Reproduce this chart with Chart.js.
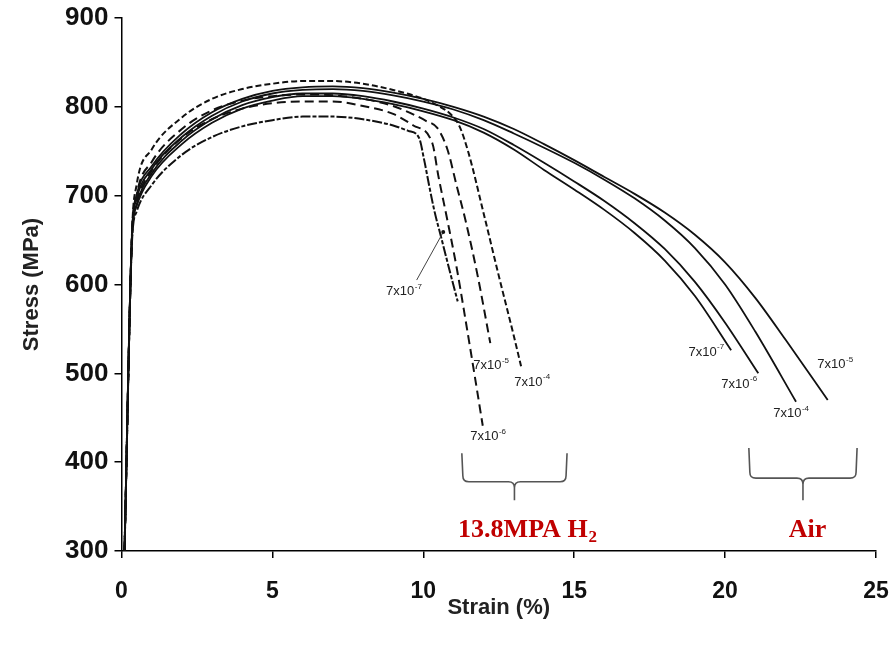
<!DOCTYPE html>
<html>
<head>
<meta charset="utf-8">
<script src="https://cdn.jsdelivr.net/npm/chart.js@4.4.1/dist/chart.umd.min.js"></script>
<style>
  html, body { margin:0; padding:0; background:#fff; }
  #wrap { width:895px; height:650px; }
</style>
</head>
<body>
<div id="wrap"><canvas id="chart" width="895" height="650"></canvas></div>
<script>
// axis ticks
const xTicks = [0, 5, 10, 15, 20, 25];
const yTicks = [300, 400, 500, 600, 700, 800, 900];

// tests in air (solid lines), strain % / stress MPa
const air7Strain = [0.1, 0.35, 0.5, 1, 2, 3, 4, 5, 6, 7, 8, 9, 10, 11, 12, 13, 14, 15, 16, 17, 18, 19, 20.2];
const air7Stress = [300, 655, 688, 722, 758, 782, 798, 807, 812, 812, 809, 803, 795, 785, 771, 752, 729, 707, 684, 658, 627, 587, 526];
const air6Strain = [0.1, 0.35, 0.5, 1, 2, 3, 4, 5, 6, 7, 8, 9, 10, 11, 12, 13, 14, 15, 16, 17, 18, 19, 20, 21.1];
const air6Stress = [300, 655, 690, 725, 762, 786, 802, 811, 815, 815, 812, 806, 798, 788, 775, 757, 737, 716, 694, 669, 640, 603, 557, 500];
const air4Strain = [0.1, 0.35, 0.5, 1, 2, 3, 4, 5, 6, 7, 8, 9, 10, 11, 12, 13, 14, 15, 16, 17, 18, 19, 20, 21, 22.35];
const air4Stress = [300, 658, 696, 730, 766, 790, 806, 815, 819, 820, 818, 813, 806, 797, 785, 770, 754, 737, 718, 697, 672, 641, 600, 547, 468];
const air5Strain = [0.1, 0.35, 0.5, 1, 2, 3, 4, 5, 6, 7, 8, 9, 10, 11, 12, 13, 14, 15, 16, 17, 18, 19, 20, 21, 22, 23.4];
const air5Stress = [300, 660, 700, 733, 770, 794, 809, 818, 822, 823, 821, 816, 809, 800, 789, 775, 758, 740, 721, 702, 681, 656, 625, 585, 538, 470];

// tests in 13.8 MPa hydrogen (dashed lines)
const h4Strain = [0.1, 0.35, 0.5, 1, 2, 3, 4, 5, 6, 7, 8, 9, 10, 10.5, 10.9, 11.2, 11.5, 12.0, 12.5, 13.0, 13.24];
const h4Stress = [300, 660, 712, 752, 788, 809, 820, 826, 829, 829, 826, 819, 809, 801, 792, 778, 748, 680, 610, 542, 508];
const h5Strain = [0.1, 0.35, 0.5, 1, 2, 3, 4, 5, 6, 7, 8, 9, 9.7, 10.1, 10.47, 10.8, 11.1, 11.4, 11.8, 12.22];
const h5Stress = [300, 655, 700, 738, 775, 796, 807, 812, 814, 813, 809, 801, 791, 784, 776, 752, 712, 672, 610, 534];
const h6Strain = [0.1, 0.35, 0.5, 1, 2, 3, 4, 5, 6, 7, 8, 9, 9.67, 10.3, 10.5, 10.8, 11.1, 11.4, 11.7, 11.97];
const h6Stress = [300, 655, 692, 728, 765, 786, 798, 804, 806, 806, 801, 792, 779, 759, 722, 672, 620, 560, 498, 441];
const h7Strain = [0.1, 0.35, 0.5, 1, 2, 3, 4, 5, 6, 7, 8, 9, 9.5, 9.86, 10.03, 10.19, 10.36, 10.6, 10.9, 11.14];
const h7Stress = [300, 650, 682, 712, 746, 766, 778, 785, 789, 789, 786, 779, 773, 765, 740, 712, 684, 652, 612, 581];

const pts = (xs, ys) => xs.map((v, i) => ({x: v, y: ys[i]}));
const line = (xs, ys, dash, w) => ({
  data: pts(xs, ys), borderColor: '#111', borderWidth: w, borderDash: dash,
  pointRadius: 0, fill: false, cubicInterpolationMode: 'monotone'
});

const font = '"Liberation Sans", Arial, sans-serif';

// strain-rate labels, pointer, braces and captions, placed in data units
const annot = {
  id: 'annot',
  afterDraw(chart) {
    const {ctx, scales: {x, y}} = chart;
    const px = v => x.getPixelForValue(v), py = v => y.getPixelForValue(v);
    ctx.save();
    const rate = (sx, sy, exp) => {
      ctx.font = '13px ' + font;
      const w1 = ctx.measureText('7x10').width;
      ctx.font = '8px ' + font;
      const w2 = ctx.measureText(exp).width;
      const left = px(sx) - (w1 + w2) / 2, mid = py(sy);
      ctx.fillStyle = '#222';
      ctx.textAlign = 'left';
      ctx.textBaseline = 'middle';
      ctx.font = '13px ' + font;
      ctx.fillText('7x10', left, mid);
      ctx.font = '8px ' + font;
      ctx.fillText(exp, left + w1 + 0.5, mid - 5);
    };
    rate(9.35, 592, '-7');
    rate(12.24, 509, '-5');
    rate(13.6, 490, '-4');
    rate(12.14, 429, '-6');
    rate(19.37, 524, '-7');
    rate(20.46, 488, '-6');
    rate(22.18, 455, '-4');
    rate(23.64, 510, '-5');

    // pointer for the 7x10-7 hydrogen curve
    ctx.strokeStyle = '#444';
    ctx.lineWidth = 1;
    ctx.beginPath();
    ctx.moveTo(px(9.78), py(605));
    ctx.lineTo(px(10.66), py(659));
    ctx.stroke();
    ctx.fillStyle = '#111';
    ctx.beginPath();
    ctx.arc(px(10.66), py(659), 2, 0, Math.PI * 2);
    ctx.fill();

    // braces grouping the two environments
    const brace = (x0, x1, yTop, yMid, yTip) => {
      const l = px(x0), r = px(x1), c = (l + r) / 2, t = py(yTop), m = py(yMid), b = py(yTip), k = 6;
      ctx.strokeStyle = '#555';
      ctx.lineWidth = 1.6;
      ctx.beginPath();
      ctx.moveTo(l - 1, t);
      ctx.lineTo(l, m - k);
      ctx.quadraticCurveTo(l, m, l + k, m);
      ctx.lineTo(c - k, m);
      ctx.quadraticCurveTo(c, m, c, m + k);
      ctx.lineTo(c, b);
      ctx.moveTo(c, m + k);
      ctx.quadraticCurveTo(c, m, c + k, m);
      ctx.lineTo(r - k, m);
      ctx.quadraticCurveTo(r, m, r, m - k);
      ctx.lineTo(r + 1, t);
      ctx.stroke();
    };
    brace(11.31, 14.73, 410, 378, 357);
    brace(20.82, 24.34, 416, 382, 357);

    // environment captions
    ctx.fillStyle = '#c00000';
    ctx.textBaseline = 'alphabetic';
    const serif = '"Liberation Serif", "Times New Roman", serif';
    ctx.font = 'bold 26px ' + serif;
    const main = '13.8MPA H';
    const wm = ctx.measureText(main).width;
    ctx.font = 'bold 17px ' + serif;
    const ws = ctx.measureText('2').width;
    const left = px(13.44) - (wm + ws) / 2;
    ctx.font = 'bold 26px ' + serif;
    ctx.textAlign = 'left';
    ctx.fillText(main, left, py(316));
    ctx.font = 'bold 17px ' + serif;
    ctx.fillText('2', left + wm + 1, py(316) + 5);
    ctx.font = 'bold 26px ' + serif;
    ctx.textAlign = 'center';
    ctx.fillText('Air', px(22.73), py(316));
    ctx.restore();
  }
};

new Chart(document.getElementById('chart'), {
  type: 'line',
  data: {
    datasets: [
      line(air7Strain, air7Stress, [], 1.8),
      line(air6Strain, air6Stress, [], 1.8),
      line(air4Strain, air4Stress, [], 1.8),
      line(air5Strain, air5Stress, [], 1.8),
      line(h4Strain, h4Stress, [6, 3], 2),
      line(h5Strain, h5Stress, [9, 5], 2),
      line(h6Strain, h6Stress, [9, 5], 2),
      line(h7Strain, h7Stress, [10, 2, 4, 2], 2),
    ]
  },
  options: {
    responsive: false,
    animation: false,
    layout: {padding: {top: 18, right: 19, left: 0, bottom: 0}},
    plugins: {legend: {display: false}, tooltip: {enabled: false}},
    scales: {
      x: {
        type: 'linear', min: 0, max: 25,
        afterBuildTicks: s => { s.ticks = xTicks.map(v => ({value: v})); },
        afterFit: s => { s.height = 99; s.paddingLeft = 0; s.paddingRight = 0; },
        grid: {drawOnChartArea: false, drawTicks: true, tickLength: 7, color: '#000', lineWidth: 1.5},
        border: {display: true, color: '#000', width: 1.5},
        ticks: {color: '#111', padding: 20, maxRotation: 0, font: {family: font, size: 23, weight: 'bold'}},
        title: {display: true, text: 'Strain (%)', color: '#222', font: {family: font, size: 22, weight: 'bold'}, padding: {top: 0, bottom: 29}}
      },
      y: {
        type: 'linear', min: 300, max: 900,
        afterBuildTicks: s => { s.ticks = yTicks.map(v => ({value: v})); },
        afterFit: s => { s.width = 121.5; s.paddingTop = 0; s.paddingBottom = 0; },
        grid: {drawOnChartArea: false, drawTicks: true, tickLength: 7, color: '#000', lineWidth: 1.5},
        border: {display: true, color: '#000', width: 1.5},
        ticks: {color: '#111', padding: 6, font: {family: font, size: 26, weight: 'bold'}},
        title: {display: true, text: 'Stress (MPa)', color: '#222', font: {family: font, size: 22, weight: 'bold'}, padding: {top: 19, bottom: 0}}
      }
    }
  },
  plugins: [annot]
});
</script>
</body>
</html>
